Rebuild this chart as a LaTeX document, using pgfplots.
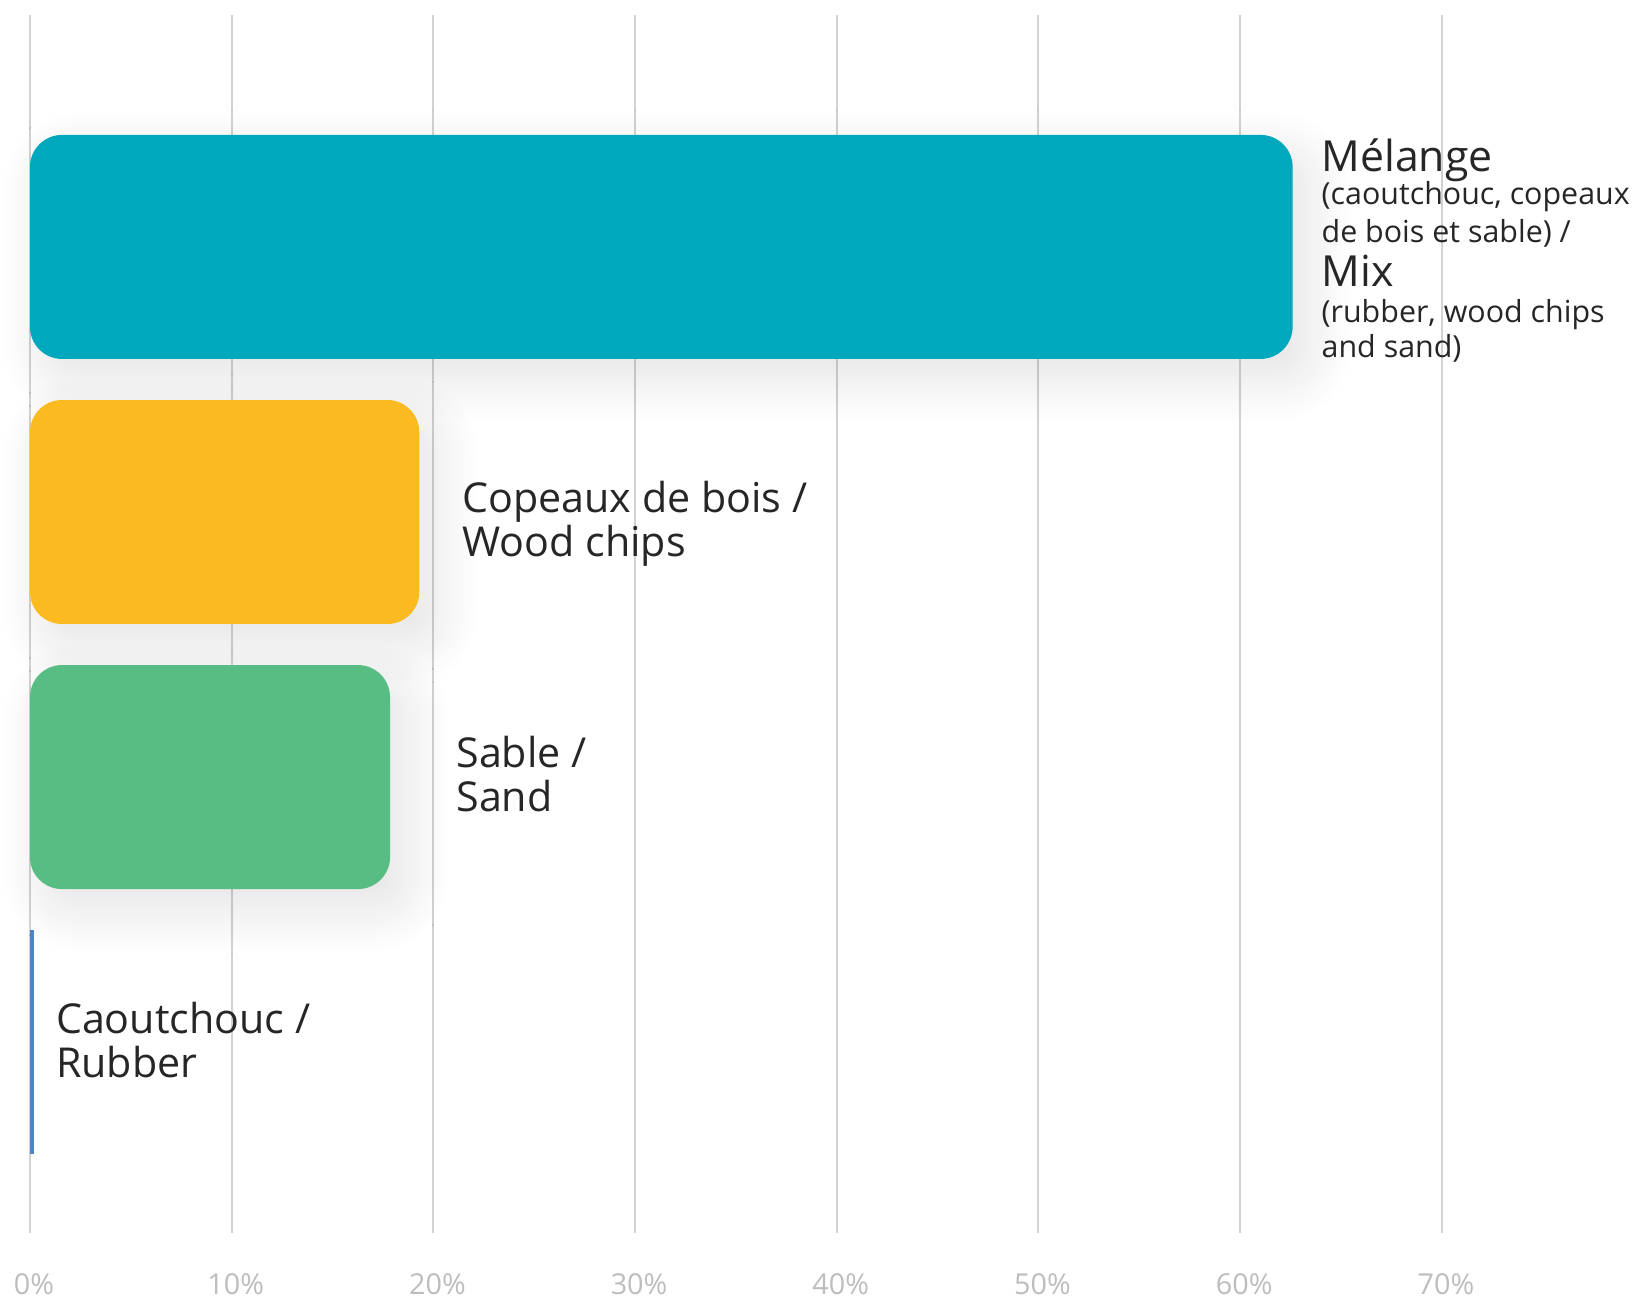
\documentclass[border=0pt]{standalone}
\usepackage{pgfplots}
\pgfplotsset{compat=1.18}
\usepackage{fontspec}
\setmainfont{Open Sans}
\usetikzlibrary{shadows.blur}
\definecolor{mixc}{HTML}{00A8BE}
\definecolor{woodc}{HTML}{FBBA1F}
\definecolor{sandc}{HTML}{58BD82}
\definecolor{rubc}{HTML}{4A86C5}
\definecolor{txt}{HTML}{262626}
\definecolor{tickc}{HTML}{BDBDBD}
\definecolor{gridc}{HTML}{D2D2D2}
\tikzset{softshadow/.style={blur shadow={shadow xshift=4bp, shadow yshift=-5bp, shadow blur radius=11bp, shadow blur steps=30, shadow opacity=11}}}
\begin{document}
\begin{tikzpicture}
\path[use as bounding box] (-7.5bp,-16bp) rectangle (402.5bp,308.25bp);
\begin{axis}[
  at={(0,0)}, anchor=south west,
  scale only axis,
  width=403.4bp, height=304.5bp,
  xmin=0, xmax=80, ymin=-0.72, ymax=3.875,
  axis line style={draw=none},
  xtick={0,10,...,70},
  ytick=\empty,
  major tick length=0pt,
  xmajorgrids,
  major grid style={gridc, line width=0.5bp},
  xticklabel={\pgfmathprintnumber{\tick}\%},
  /pgf/number format/assume math mode=true,
  xticklabel style={anchor=base, yshift=-15.3bp, xshift=1bp, font=\fontsize{7.2bp}{8bp}\selectfont, text=tickc},
  xbar, bar width=0.845, bar shift=0pt,
  clip=false,
]
\addplot[draw=none, fill=mixc, rounded corners=8bp, softshadow]
  coordinates {(62.6,3)};
\addplot[draw=none, fill=woodc, rounded corners=8bp, softshadow]
  coordinates {(19.3,2)};
\addplot[draw=none, fill=sandc, rounded corners=8bp, softshadow]
  coordinates {(17.85,1)};
\addplot[draw=none, fill=rubc] coordinates {(0.2,0)};

\begin{scope}[every node/.style={anchor=base west, inner sep=0pt, text=txt}]
\node[font=\fontsize{10.7bp}{12bp}\selectfont] at (axis cs:64.0,3.286) {Mélange};
\node[font=\fontsize{7.6bp}{9bp}\selectfont] at (axis cs:64.0,3.161) {(caoutchouc, copeaux};
\node[font=\fontsize{7.6bp}{9bp}\selectfont] at (axis cs:64.0,3.017) {de bois et sable) /};
\node[font=\fontsize{10.7bp}{12bp}\selectfont] at (axis cs:64.0,2.851) {Mix};
\node[font=\fontsize{7.6bp}{9bp}\selectfont] at (axis cs:64.0,2.715) {(rubber, wood chips};
\node[font=\fontsize{7.6bp}{9bp}\selectfont] at (axis cs:64.0,2.583) {and sand)};
\node[font=\fontsize{10.3bp}{12bp}\selectfont] at (axis cs:21.4,1.997) {Copeaux de bois /};
\node[font=\fontsize{10.3bp}{12bp}\selectfont] at (axis cs:21.4,1.831) {Wood chips};
\node[font=\fontsize{10.3bp}{12bp}\selectfont] at (axis cs:21.1,1.038) {Sable /};
\node[font=\fontsize{10.3bp}{12bp}\selectfont] at (axis cs:21.1,0.869) {Sand};
\node[font=\fontsize{10.3bp}{12bp}\selectfont] at (axis cs:1.25,0.034) {Caoutchouc /};
\node[font=\fontsize{10.3bp}{12bp}\selectfont] at (axis cs:1.25,-0.132) {Rubber};
\end{scope}
\end{axis}
\end{tikzpicture}
\end{document}
